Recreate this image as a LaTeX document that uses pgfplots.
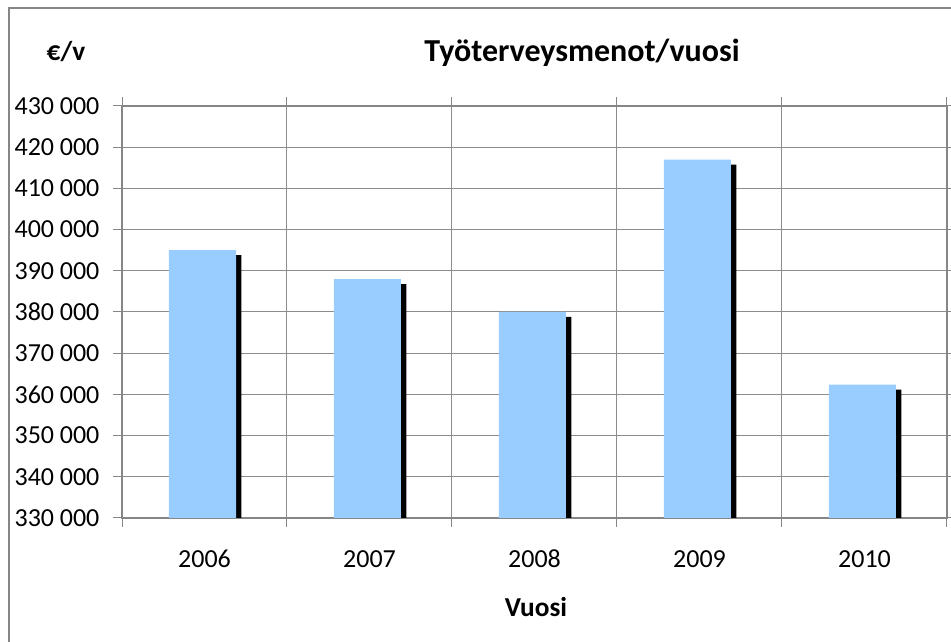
\documentclass[border=0pt]{standalone}
\usepackage{pgfplots}
\pgfplotsset{compat=1.18}
\usepackage{fontspec}
\setmainfont{Carlito}
\usetikzlibrary{shadows}
\definecolor{barblue}{HTML}{99CCFF}
\definecolor{gridgray}{HTML}{8C8C8C}
\definecolor{framegray}{HTML}{868686}
\begin{document}
\begin{tikzpicture}
\useasboundingbox (0pt,0pt) rectangle (713.25pt,481.5pt);
\draw[framegray, line width=0.9pt] (6.75pt,-20pt) -- (6.75pt,475.5pt) -- (730pt,475.5pt);
\begin{axis}[
  at={(91.5pt,93pt)}, anchor=south west,
  scale only axis, width=618.75pt, height=309pt,
  xmin=-0.5, xmax=4.5, ymin=330000, ymax=430000,
  xtick={-0.5,0.5,1.5,2.5,3.5,4.5},
  xticklabels={{},{},{},{},{},{}},
  extra x ticks={0,1,2,3,4},
  extra x tick labels={2006,2007,2008,2009,2010},
  extra x tick style={grid=none, major tick length=0pt,
     xticklabel style={anchor=center, yshift=-30.75pt}},
  ytick={330000,340000,...,430000},
  scaled y ticks=false,
  /pgf/number format/.cd, fixed, 1000 sep={\hspace{0.22em}}, assume math mode=true,
  /pgfplots/.cd,
  tick align=outside,
  major tick length=6.75pt,
  tick style={framegray, line width=0.75pt},
  xmajorgrids, ymajorgrids,
  major grid style={gridgray, line width=0.75pt},
  axis line style={framegray, line width=0.9pt},
  tick label style={font=\fontsize{19.5}{23}\selectfont, text=black},
  yticklabel style={anchor=east, inner sep=0pt, xshift=-10pt},
  title={Työterveysmenot/vuosi},
  every axis title/.style={at={(0.5576,1.1286)}, anchor=center, font=\fontsize{24}{28}\selectfont\bfseries},
  xlabel={Vuosi},
  every axis x label/.style={at={(0.5018,-0.216)}, anchor=center, font=\fontsize{20.5}{24}\selectfont\bfseries},
  ylabel={€/v},
  every axis y label/.style={at={(-0.0679,1.131)}, anchor=center, font=\fontsize{20.5}{24}\selectfont\bfseries},
]
\addplot[ybar, bar width=50.25pt, bar shift=-1.5pt, fill=barblue, draw=none,
  drop shadow={shadow xshift=4pt, shadow yshift=-3.75pt, fill=black, opacity=1}]
  coordinates {(0,395000) (1,388000) (2,380000) (3,417000) (4,362400)};
\end{axis}
\end{tikzpicture}
\end{document}
